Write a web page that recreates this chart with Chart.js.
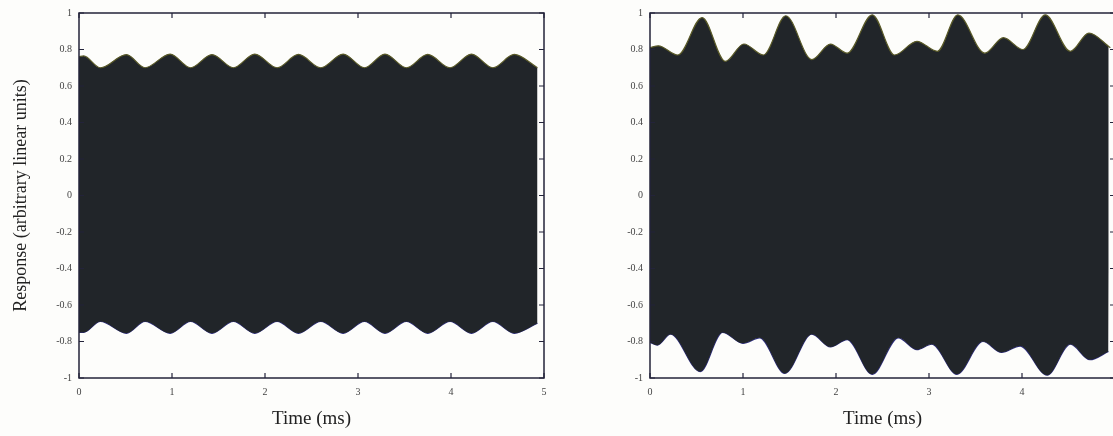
<!DOCTYPE html>
<html>
<head>
<meta charset="utf-8">
<script src="https://cdn.jsdelivr.net/npm/chart.js@4.4.1/dist/chart.umd.min.js"></script>
<style>
  html, body { margin: 0; padding: 0; background: #fdfdfb; }
  body { width: 1113px; height: 436px; overflow: hidden; position: relative; }
  canvas { position: absolute; top: 0; }
  #leftChart { left: 0; }
  #rightChart { left: 590px; }
</style>
</head>
<body>
<canvas id="leftChart" width="560" height="436"></canvas>
<canvas id="rightChart" width="540" height="436"></canvas>
<script>
// tick labels
const xTickLabels = ['0', '1', '2', '3', '4', '5'];
const yTickLabels = ['-1', '-0.8', '-0.6', '-0.4', '-0.2', '0', '0.2', '0.4', '0.6', '0.8', '1'];

// left panel: envelope of the response (ms, arbitrary units)
const leftTime  = [0, 0.05, 0.23, 0.51, 0.71, 0.98, 1.20, 1.43, 1.66, 1.89, 2.13, 2.36, 2.60, 2.84, 3.07, 3.29, 3.52, 3.75, 3.99, 4.22, 4.45, 4.68, 4.93];
const leftUpper = [0.76, 0.765, 0.70, 0.772, 0.70, 0.775, 0.70, 0.772, 0.70, 0.775, 0.70, 0.773, 0.70, 0.775, 0.70, 0.775, 0.70, 0.773, 0.70, 0.775, 0.70, 0.773, 0.70];
const leftLower = [-0.75, -0.75, -0.69, -0.755, -0.69, -0.755, -0.69, -0.755, -0.69, -0.755, -0.69, -0.755, -0.69, -0.755, -0.69, -0.755, -0.69, -0.755, -0.69, -0.755, -0.69, -0.755, -0.70];

// right panel: envelope of the response
const rightTimeUpper = [0, 0.09, 0.30, 0.56, 0.81, 1.01, 1.22, 1.46, 1.74, 1.94, 2.12, 2.39, 2.63, 2.87, 3.09, 3.31, 3.60, 3.80, 4.01, 4.25, 4.52, 4.72, 4.95];
const rightUpper     = [0.81, 0.82, 0.77, 0.975, 0.735, 0.83, 0.77, 0.985, 0.745, 0.83, 0.78, 0.99, 0.77, 0.845, 0.79, 0.99, 0.78, 0.865, 0.80, 0.99, 0.79, 0.89, 0.81];
const rightTimeLower = [0, 0.08, 0.22, 0.54, 0.78, 1.00, 1.18, 1.45, 1.74, 1.94, 2.12, 2.39, 2.67, 2.87, 3.03, 3.30, 3.58, 3.78, 3.98, 4.27, 4.52, 4.73, 4.93];
const rightLower     = [-0.805, -0.82, -0.76, -0.965, -0.75, -0.81, -0.78, -0.975, -0.76, -0.83, -0.79, -0.98, -0.78, -0.845, -0.815, -0.98, -0.80, -0.86, -0.825, -0.985, -0.815, -0.90, -0.855];

const fillColor = '#212529';
const serif = "'Liberation Serif', 'DejaVu Serif', serif";

function toPoints(ts, vs) {
	return ts.map((t, i) => ({ x: t, y: vs[i] }));
}

// upper edge is filled down to the lower edge (next dataset)
function envelope(ts, vs, edge, fillTo) {
	return {
		data: toPoints(ts, vs),
		borderColor: edge,
		borderWidth: 1.2,
		backgroundColor: fillColor,
		fill: fillTo,
		pointRadius: 0,
		cubicInterpolationMode: 'monotone'
	};
}

// frame with inward ticks on all four sides
const framePlugin = {
	id: 'frame',
	afterDatasetsDraw(chart) {
		const c = chart.ctx;
		const a = chart.chartArea;
		const xs = chart.scales.x, ys = chart.scales.y;
		c.save();
		c.strokeStyle = '#23233a';
		c.lineWidth = 1.5;
		c.strokeRect(a.left, a.top, a.right - a.left, a.bottom - a.top);
		c.lineWidth = 1.2;
		c.beginPath();
		xs.ticks.forEach((t, i) => {
			const px = xs.getPixelForTick(i);
			c.moveTo(px, a.bottom); c.lineTo(px, a.bottom - 5);
			c.moveTo(px, a.top); c.lineTo(px, a.top + 5);
		});
		ys.ticks.forEach((t, i) => {
			const py = ys.getPixelForTick(i);
			c.moveTo(a.left, py); c.lineTo(a.left + 5, py);
			c.moveTo(a.right, py); c.lineTo(a.right - 5, py);
		});
		c.stroke();
		c.restore();
	}
};

function makeChart(id, datasets, yWidth, rightPad, showYTitle) {
	return new Chart(document.getElementById(id), {
		type: 'line',
		data: { datasets: datasets },
		options: {
			responsive: false,
			animation: false,
			layout: { padding: { top: 13, right: rightPad, bottom: 0, left: 0 } },
			plugins: { legend: { display: false }, tooltip: { enabled: false } },
			scales: {
				x: {
					type: 'linear',
					min: 0,
					max: 5,
					grid: { display: false, drawTicks: false },
					border: { display: false },
					ticks: {
						stepSize: 1,
						padding: 8,
						color: '#444',
						font: { family: serif, size: 10 },
						callback: (v) => xTickLabels[Math.round(v)]
					},
					title: {
						display: true,
						text: 'Time (ms)',
						color: '#222',
						font: { family: serif, size: 19 },
						padding: { top: 0, bottom: 6 }
					},
					afterFit: (s) => { s.height = 58; }
				},
				y: {
					min: -1,
					max: 1,
					grid: { display: false, drawTicks: false },
					border: { display: false },
					ticks: {
						stepSize: 0.2,
						padding: 7,
						color: '#444',
						font: { family: serif, size: 10 },
						callback: (v) => yTickLabels[Math.round((v + 1) * 5)]
					},
					title: {
						display: showYTitle,
						text: 'Response (arbitrary linear units)',
						color: '#222',
						font: { family: serif, size: 18 },
						padding: { top: 10, bottom: 0 }
					},
					afterFit: (s) => { s.width = yWidth; }
				}
			}
		},
		plugins: [framePlugin]
	});
}

makeChart('leftChart', [
	envelope(leftTime, leftUpper, '#5a5a28', '+1'),
	envelope(leftTime, leftLower, '#2e2e80', false)
], 79, 16, true);

makeChart('rightChart', [
	envelope(rightTimeUpper, rightUpper, '#5a5a28', '+1'),
	envelope(rightTimeLower, rightLower, '#2e2e80', false)
], 60, 15, false);
</script>
</body>
</html>
